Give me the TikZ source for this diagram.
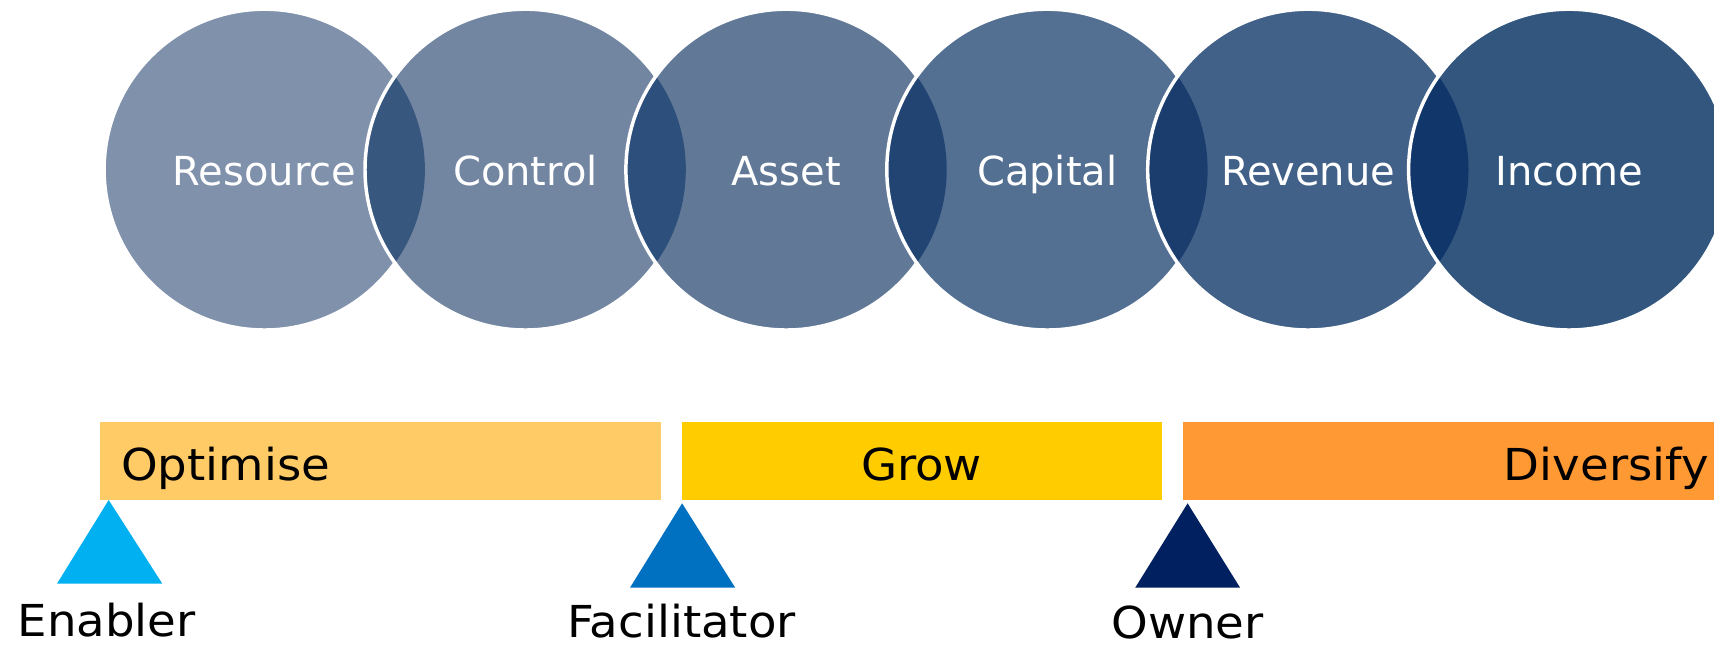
\documentclass[tikz,border=0pt]{standalone}
\usepackage{fontspec}
\setmainfont{DejaVu Sans}
\newfontfamily\circfont{DejaVu Sans}
\newfontfamily\barfont[FakeStretch=1.06]{DejaVu Sans}
\definecolor{cA}{HTML}{8091AB}
\definecolor{cB}{HTML}{7286A2}
\definecolor{cC}{HTML}{617997}
\definecolor{cD}{HTML}{536F92}
\definecolor{cE}{HTML}{426188}
\definecolor{cF}{HTML}{33567F}
\definecolor{lB}{HTML}{37577F}
\definecolor{lC}{HTML}{2D4F7B}
\definecolor{lD}{HTML}{214473}
\definecolor{lE}{HTML}{1A3D6D}
\definecolor{lF}{HTML}{11366A}
\definecolor{optc}{HTML}{FFCB66}
\definecolor{growc}{HTML}{FFCC00}
\definecolor{divc}{HTML}{FF9933}
\definecolor{enc}{HTML}{00B0F0}
\definecolor{facc}{HTML}{0070C0}
\definecolor{ownc}{HTML}{002060}
\tikzset{
  circtext/.style={text=white, font=\circfont\fontsize{30pt}{36pt}\selectfont, anchor=base, inner sep=0pt},
  bartext/.style={text=black, font=\barfont\fontsize{33pt}{38pt}\selectfont, inner sep=0pt, text depth=0pt},
  ring/.style={draw=white, line width=2.6pt},
}
\begin{document}
\begin{tikzpicture}[x=0.75pt,y=-0.75pt]
\useasboundingbox (0,0) rectangle (1714,647);
\clip (0,0) rectangle (1714,647);
\def\R{120.3pt}
% circle centres
\coordinate (pA) at (264.5,169.6);
\coordinate (pB) at (525.4,169.6);
\coordinate (pC) at (786.3,169.6);
\coordinate (pD) at (1047.2,169.6);
\coordinate (pE) at (1308.1,169.6);
\coordinate (pF) at (1569.0,169.6);
% circles
\fill[cA] (pA) circle[radius=\R];
\draw[ring] (pA) circle[radius=\R];
\fill[cB] (pB) circle[radius=\R];
\begin{scope}\clip (pA) circle[radius=\R]; \fill[lB] (pB) circle[radius=\R];\end{scope}
\draw[ring] (pB) circle[radius=\R];
\fill[cC] (pC) circle[radius=\R];
\begin{scope}\clip (pB) circle[radius=\R]; \fill[lC] (pC) circle[radius=\R];\end{scope}
\draw[ring] (pC) circle[radius=\R];
\fill[cD] (pD) circle[radius=\R];
\begin{scope}\clip (pC) circle[radius=\R]; \fill[lD] (pD) circle[radius=\R];\end{scope}
\draw[ring] (pD) circle[radius=\R];
\fill[cE] (pE) circle[radius=\R];
\begin{scope}\clip (pD) circle[radius=\R]; \fill[lE] (pE) circle[radius=\R];\end{scope}
\draw[ring] (pE) circle[radius=\R];
\fill[cF] (pF) circle[radius=\R];
\begin{scope}\clip (pE) circle[radius=\R]; \fill[lF] (pF) circle[radius=\R];\end{scope}
\draw[ring] (pF) circle[radius=\R];
% circle labels
\node[circtext] (tA) at (264.5,185) {Resource};
\node[circtext] (tB) at (525.4,185) {Control};
\node[circtext] (tC) at (786.3,185) {Asset};
\node[circtext] (tD) at (1047.2,185) {Capital};
\node[circtext] (tE) at (1308.1,185) {Revenue};
\node[circtext] (tF) at (1569.0,185) {Income};
% bars
\fill[optc] (100,422) rectangle (661,499.5);
\fill[growc] (682,422) rectangle (1162,499.5);
\fill[divc] (1183,422) rectangle (1714,499.5);
\node[bartext, anchor=base west] (opt) at (121,480) {Optimise};
\node[bartext, anchor=base] (grow) at (921.5,480) {Grow};
\node[bartext, anchor=base east] (div) at (1709,480) {Diversify};
% triangles
\fill[enc] (108.7,500) -- (162.2,583.5) -- (57.1,583.5) -- cycle;
\fill[facc] (682.1,503.3) -- (735.2,587.7) -- (630,587.7) -- cycle;
\fill[ownc] (1187.6,503.3) -- (1240.1,587.7) -- (1135.2,587.7) -- cycle;
% role labels
\node[bartext, anchor=base] (en) at (106.6,636) {Enabler};
\node[bartext, anchor=base] (fa) at (681.6,637) {Facilitator};
\node[bartext, anchor=base] (ow) at (1187.7,638) {Owner};
\end{tikzpicture}
\end{document}
